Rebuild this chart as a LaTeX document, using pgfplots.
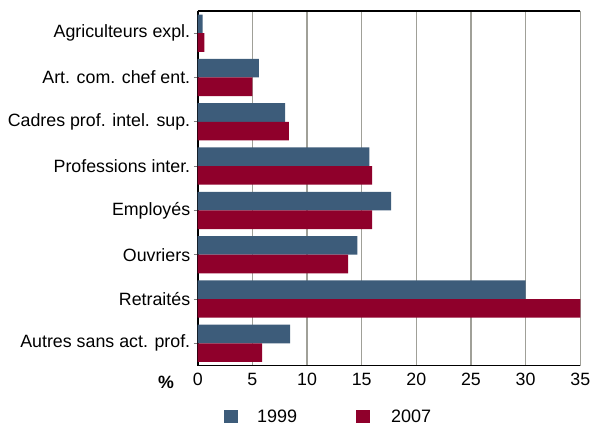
\documentclass[border=0pt]{standalone}
\usepackage{fontspec}
\setmainfont{Liberation Sans}
\usepackage{pgfplots}
\pgfplotsset{compat=1.18}
\definecolor{cblue}{HTML}{3D5C7A}
\definecolor{cred}{HTML}{8F002B}
\definecolor{gridc}{HTML}{A0A098}
\begin{document}
\begin{tikzpicture}
\useasboundingbox (0,0) rectangle (591bp,426bp);
\begin{axis}[
  at={(197.7bp,60.5bp)}, anchor=south west,
  width=382.6bp, height=354.5bp, scale only axis,
  clip=false,
  xbar=0pt, bar width=0.42,
  xmin=0, xmax=35, ymin=-0.5, ymax=7.5, y dir=reverse,
  axis lines*=left,
  xtick={0,5,...,35}, ytick={0,...,7},
  yticklabels={Agriculteurs expl., Art. com. chef ent., Cadres prof. intel. sup., Professions inter., Employés, Ouvriers, Retraités, Autres sans act. prof.},
  /pgf/number format/assume math mode=true,
  tick label style={font=\fontsize{17.8bp}{21bp}\selectfont},
  tick align=outside,
  xtick style={draw=none},
  ytick style={draw=gray, line width=1bp},
  major tick length=4bp,
  xmajorgrids,
  major grid style={gridc, line width=1.3bp},
  axis line style={black, line width=1.6bp},
  legend columns=2,
  legend style={at={(0.0687,-0.144)}, anchor=west, draw=none, inner sep=0pt,
    font=\fontsize{18bp}{21bp}\selectfont,
    nodes={inner sep=0pt},
    /tikz/every even column/.append style={column sep=59bp}},
]
\addplot[fill=cblue, draw=none, legend image code/.code={\fill[cblue] (0bp,-6.5bp) rectangle (14bp,6.5bp); \path (33bp,0bp);}]
  coordinates {(0.45,0) (5.6,1) (8.0,2) (15.7,3) (17.7,4) (14.6,5) (30.0,6) (8.45,7)};
\addplot[fill=cred, draw=none, legend image code/.code={\fill[cred] (0bp,-6.5bp) rectangle (14bp,6.5bp); \path (35bp,0bp);}]
  coordinates {(0.6,0) (5.0,1) (8.35,2) (15.95,3) (15.95,4) (13.75,5) (35.0,6) (5.9,7)};
\legend{1999, 2007}
\draw[black, line width=1.2bp] (rel axis cs:0,1) -- (rel axis cs:1,1);
\node[font=\fontsize{17.8bp}{21bp}\selectfont\bfseries] at (axis description cs:-0.083,-0.047) {\%};
\end{axis}
\end{tikzpicture}
\end{document}
